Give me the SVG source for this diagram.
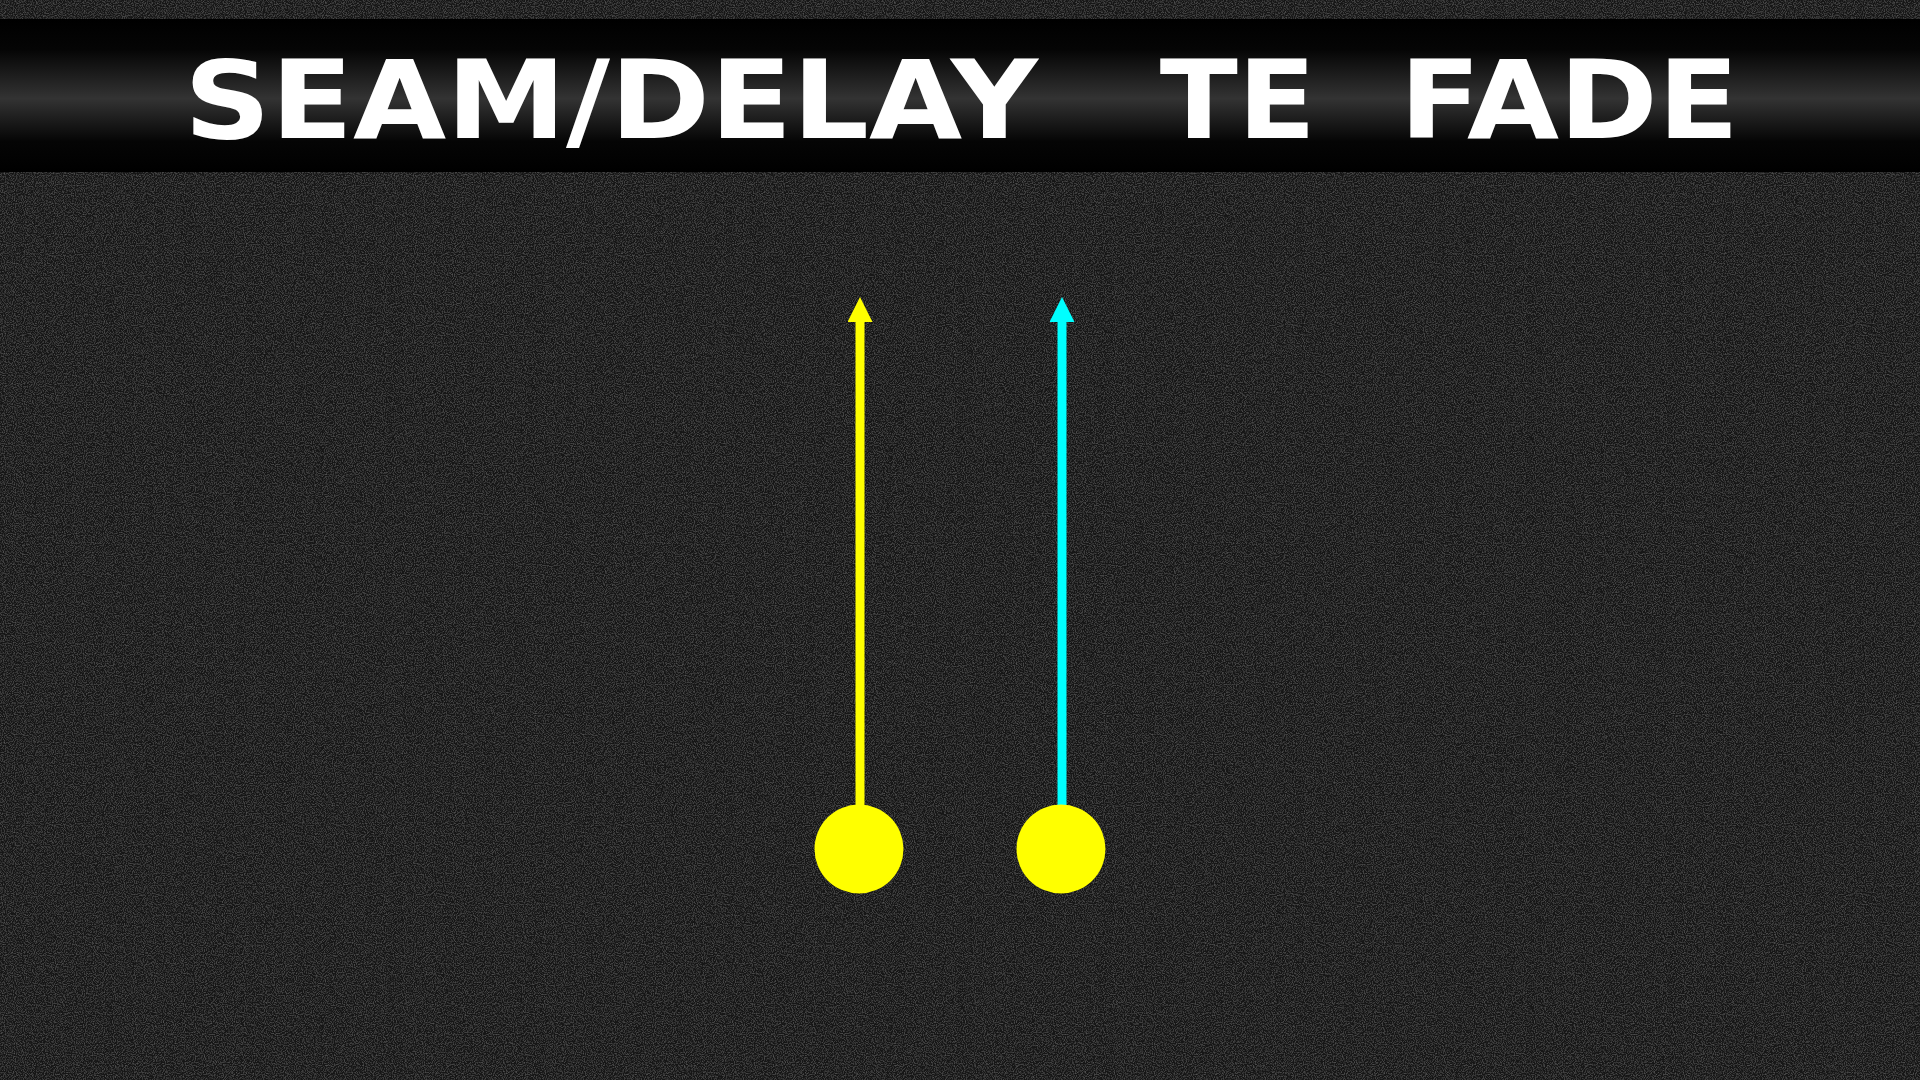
<svg xmlns="http://www.w3.org/2000/svg" width="1920" height="1080" viewBox="0 0 1920 1080">
  <defs>
    <filter id="noise" x="0" y="0" width="100%" height="100%">
      <feTurbulence type="fractalNoise" baseFrequency="0.9" numOctaves="2" seed="3" result="n"/>
      <feColorMatrix type="matrix" values="0 0 0 0 0.2  0 0 0 0 0.2  0 0 0 0 0.2  0 0 0 0.9 -0.4" in="n" result="c"/>
      <feComposite in="c" in2="SourceGraphic" operator="over"/>
    </filter>
    <linearGradient id="bannerGrad" x1="0" y1="0" x2="0" y2="1">
      <stop offset="0" stop-color="#000"/>
      <stop offset="0.2" stop-color="#050505"/>
      <stop offset="0.52" stop-color="#333"/>
      <stop offset="0.8" stop-color="#050505"/>
      <stop offset="1" stop-color="#000"/>
    </linearGradient>
    <marker id="headY" viewBox="0 0 10 10" refX="0" refY="5" markerWidth="25" markerHeight="25" markerUnits="userSpaceOnUse" orient="auto">
      <path d="M0,0 L10,5 L0,10 Z" fill="#ffff00"/>
    </marker>
    <marker id="headC" viewBox="0 0 10 10" refX="0" refY="5" markerWidth="25" markerHeight="25" markerUnits="userSpaceOnUse" orient="auto">
      <path d="M0,0 L10,5 L0,10 Z" fill="#00ffff"/>
    </marker>
    <style>
      .title { font-family: "DejaVu Sans", "Liberation Sans", sans-serif; font-weight: bold; font-size: 108px; fill: #ffffff; }
      .route { stroke-width: 9; fill: none; }
      .player { fill: #ffff00; }
    </style>
  </defs>

  <rect x="0" y="0" width="1920" height="1080" fill="#181818" filter="url(#noise)"/>

  <g id="banner">
    <rect x="0" y="19" width="1920" height="153" fill="url(#bannerGrad)"/>
    <text class="title" y="138"><tspan x="184" textLength="854" lengthAdjust="spacingAndGlyphs">SEAM/DELAY</tspan><tspan x="1120" textLength="196" lengthAdjust="spacingAndGlyphs"> TE</tspan><tspan x="1358" textLength="381" lengthAdjust="spacingAndGlyphs"> FADE</tspan></text>
  </g>

  <g id="connectors">
    <line class="route" x1="860" y1="806" x2="860" y2="322" stroke="#ffff00" marker-end="url(#headY)"/>
    <line class="route" x1="1062" y1="806" x2="1062" y2="322" stroke="#00ffff" marker-end="url(#headC)"/>
  </g>

  <g id="player-left">
    <circle class="player" cx="859" cy="849" r="44.5"/>
  </g>
  <g id="player-right">
    <circle class="player" cx="1061" cy="849" r="44.5"/>
  </g>
</svg>
